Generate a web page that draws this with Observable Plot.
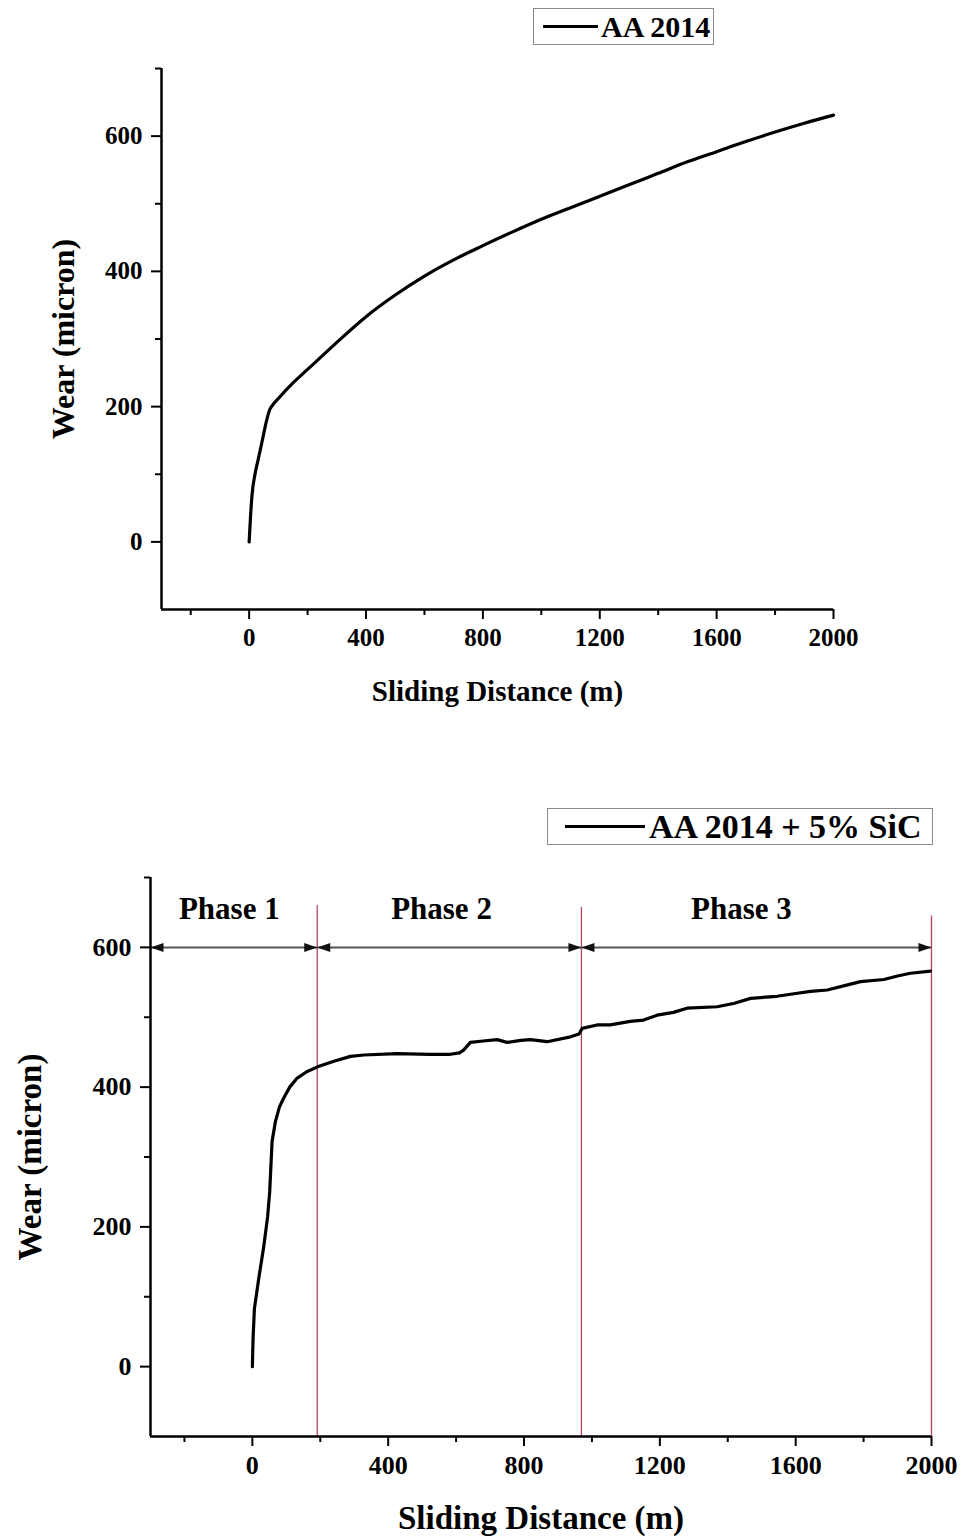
<!DOCTYPE html>
<html><head><meta charset="utf-8">
<script src="https://cdn.jsdelivr.net/npm/d3@7"></script>
<script src="https://cdn.jsdelivr.net/npm/@observablehq/plot@0.6"></script>
<style>
body{margin:0;background:#fff;}
#wrap{position:relative;width:965px;height:1538px;overflow:hidden;font-family:"Liberation Serif",serif;font-weight:bold;color:#000;}
.plot{position:absolute;left:0;}
.legend{position:absolute;border:1px solid #8a8a8a;background:#fff;display:flex;align-items:center;box-sizing:border-box;white-space:nowrap;}
.legend .sw{display:inline-block;height:3px;background:#000;}
</style></head><body>
<div id="wrap">
  <div id="top" class="plot" style="top:0px"></div>
  <div id="bottom" class="plot" style="top:760px"></div>
  <div class="legend" style="left:533px;top:8px;width:181px;height:37px;padding-left:9px;"><span class="sw" style="width:55px"></span><span style="font-size:30px;margin-left:3px;">AA 2014</span></div>
  <div class="legend" style="left:547px;top:808px;width:386px;height:37px;padding-left:17px;"><span class="sw" style="width:80px"></span><span style="font-size:34px;margin-left:4px;">AA 2014 + 5% SiC</span></div>
</div>
<script>
// ---- data ----
const topX = [0, 5, 10, 20, 30, 45, 60, 70, 80, 100, 150, 200, 250, 300, 400, 500, 600, 700, 800, 900, 1000, 1100, 1200, 1300, 1400, 1500, 1600, 1700, 1800, 1900, 2000];
const topY = [0, 40, 70, 100, 120, 150, 180, 195, 202, 212, 235, 255, 275, 295, 333, 365, 393, 417, 438, 458, 477, 494, 511, 528, 545, 562, 577, 592, 606, 619, 631];

const botX = [0, 2, 6, 20, 33, 45, 51, 58, 68, 80, 92, 110, 132, 160, 192, 240, 289, 328, 426, 524, 583, 610, 622, 642, 680, 721, 750, 790, 819, 868, 937, 962, 971, 1015, 1054, 1113, 1152, 1192, 1240, 1280, 1369, 1420, 1467, 1545, 1600, 1644, 1693, 1750, 1791, 1860, 1900, 1938, 1997];
const botY = [0, 40, 83, 130, 170, 215, 250, 322, 351, 372, 384, 400, 413, 422, 429, 437, 444, 446, 448, 447, 447, 449, 453, 464, 466, 468, 464, 467, 468, 465, 472, 476, 484, 489, 489, 494, 496, 503, 507, 513, 515, 520, 527, 530, 534, 537, 539, 546, 551, 554, 559, 563, 566];

const majorX = [0, 400, 800, 1200, 1600, 2000];
const minorX = [-200, 200, 600, 1000, 1400, 1800];
const majorY = [0, 200, 400, 600];
const minorY = [100, 300, 500, 700];
const xDomain = [-300, 2000];
const yDomain = [-100, 700];

const phaseBounds = [-300, 191, 969, 2000];
const phaseTops = [660, 657, 645];
const phaseNames = ["Phase 1", "Phase 2", "Phase 3"];
const phaseLabelX = [-68, 557, 1440];
const phaseLabelY = 655;
const arrowY = 600;

const xTitle = "Sliding Distance (m)";
const yTitle = "Wear (micron)";

// ---- helpers ----
const headRight = {draw(ctx){ ctx.moveTo(0,0); ctx.lineTo(-13,-4.5); ctx.lineTo(-13,4.5); ctx.closePath(); }};
const fmt = d => String(d);

function axes(tickFont) {
  return [
    Plot.ruleX([xDomain[0]], {stroke: "#000", strokeWidth: 2.5}),
    Plot.ruleY([yDomain[0]], {stroke: "#000", strokeWidth: 2.5}),
    Plot.axisX(majorX, {tickSize: 10, tickPadding: 9, strokeWidth: 2, tickFormat: fmt, fontSize: tickFont, fontWeight: "bold", label: null}),
    Plot.axisX(minorX, {tickSize: 6, strokeWidth: 2, tickFormat: () => "", label: null}),
    Plot.axisY(majorY, {tickSize: 10, tickPadding: 9, strokeWidth: 2, tickFormat: fmt, fontSize: tickFont, fontWeight: "bold", label: null}),
    Plot.axisY(minorY, {tickSize: 6, strokeWidth: 2, tickFormat: () => "", label: null})
  ];
}

const baseStyle = {fontFamily: "Liberation Serif, serif", fontWeight: "bold", color: "#000", background: "#fff", overflow: "visible"};

const topData = topX.map((x, i) => ({x, y: topY[i]}));
const botData = botX.map((x, i) => ({x, y: botY[i]}));

const topPlot = Plot.plot({
  width: 965, height: 740,
  marginLeft: 161, marginRight: 132, marginTop: 68, marginBottom: 131,
  x: {domain: xDomain, label: null},
  y: {domain: yDomain, label: null},
  style: baseStyle,
  marks: [
    ...axes(25),
    Plot.line(topData, {x: "x", y: "y", stroke: "#000", strokeWidth: 3.2, curve: "monotone-x"}),
    Plot.text([xTitle], {frameAnchor: "bottom", dy: 82, lineAnchor: "middle", textAnchor: "middle", text: d => d, fontSize: 29, fontWeight: "bold"}),
    Plot.text([yTitle], {frameAnchor: "left", dx: -98, rotate: -90, lineAnchor: "middle", textAnchor: "middle", text: d => d, fontSize: 32, fontWeight: "bold"})
  ]
});
document.getElementById("top").appendChild(topPlot);

const botPlot = Plot.plot({
  width: 965, height: 778,
  marginLeft: 150, marginRight: 34, marginTop: 117, marginBottom: 102,
  x: {domain: xDomain, label: null},
  y: {domain: yDomain, label: null},
  style: baseStyle,
  marks: [
    Plot.ruleX(phaseBounds.slice(1), {x: d => d, y1: yDomain[0], y2: (d, i) => phaseTops[i], stroke: "#b4465c", strokeWidth: 1.3}),
    Plot.ruleY([arrowY], {x1: phaseBounds[0], x2: phaseBounds[3], stroke: "#555", strokeWidth: 2}),
    Plot.dot(phaseBounds.slice(1), {x: d => d, y: arrowY, symbol: headRight, r: 5, fill: "#111", stroke: "none"}),
    Plot.dot(phaseBounds.slice(0, 3), {x: d => d, y: arrowY, symbol: headRight, rotate: 180, r: 5, fill: "#111", stroke: "none"}),
    ...axes(26),
    Plot.line(botData, {x: "x", y: "y", stroke: "#000", strokeWidth: 3.2}),
    Plot.text(phaseNames, {x: (d, i) => phaseLabelX[i], y: phaseLabelY, text: d => d, fontSize: 31, fontWeight: "bold"}),
    Plot.text([xTitle], {frameAnchor: "bottom", dy: 82, lineAnchor: "middle", textAnchor: "middle", text: d => d, fontSize: 33, fontWeight: "bold"}),
    Plot.text([yTitle], {frameAnchor: "left", dx: -120, rotate: -90, lineAnchor: "middle", textAnchor: "middle", text: d => d, fontSize: 33, fontWeight: "bold"})
  ]
});
document.getElementById("bottom").appendChild(botPlot);
</script>
</body></html>
